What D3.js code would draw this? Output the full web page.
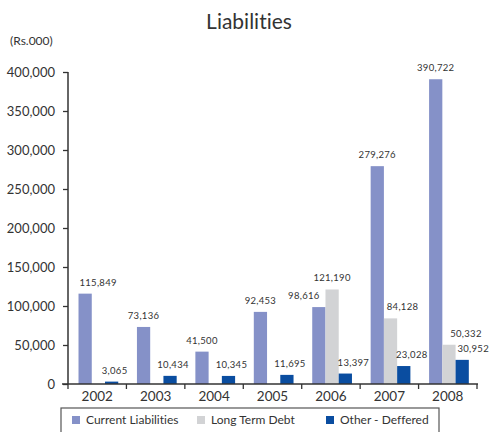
<!DOCTYPE html>
<html>
<head>
<meta charset="utf-8">
<script src="https://cdn.jsdelivr.net/npm/d3@7"></script>
<style>
  body { margin: 0; background: #fff; }
  text { font-family: Lato, "Open Sans", sans-serif; fill: #333; font-variant-ligatures: none; }
</style>
</head>
<body>
<svg class="chart"></svg>
<script>
var years = ["2002", "2003", "2004", "2005", "2006", "2007", "2008"];
var seriesNames = ["Current Liabilities", "Long Term Debt", "Other - Deffered"];
var currentLiabilities = [115849, 73136, 41500, 92453, 98616, 279276, 390722];
var longTermDebt = [0, 0, 0, 0, 121190, 84128, 50332];
var otherDeferred = [3065, 10434, 10345, 11695, 13397, 23028, 30952];
var yTicks = [0, 50000, 100000, 150000, 200000, 250000, 300000, 350000, 400000];

var colors = ["#8591c8", "#d2d3d5", "#0a4da0"];
var allSeries = [currentLiabilities, longTermDebt, otherDeferred];

var width = 489, height = 432;
var margin = {top: 72, left: 68, right: 12, bottom: 48};

var svg = d3.select(".chart")
    .attr("width", width)
    .attr("height", height);

var x0 = d3.scaleBand()
    .domain(years)
    .range([margin.left, width - margin.right]);

var bw = x0.bandwidth();
var x1 = d3.scaleBand()
    .domain(seriesNames)
    .range([bw * 0.18, bw * 0.86]);

var y = d3.scaleLinear()
    .domain([0, 400000])
    .range([height - margin.bottom, margin.top]);

// flatten to bar records
var bars = [];
years.forEach(function(yr, i) {
  seriesNames.forEach(function(s, j) {
    bars.push({year: yr, series: s, idx: j, value: allSeries[j][i]});
  });
});

// label nudges where the labels would clash
function nudge(d) {
  if (d.year == "2002" && d.idx == 0) return 13;
  if (d.year == "2006" && d.idx == 0) return -15;
  if (d.year == "2007" && d.idx == 1) return 12;
  if (d.year == "2008" && d.idx == 1) return 17;
  if (d.idx == 2 && (d.year == "2006" || d.year == "2007")) return 8;
  if (d.year == "2008" && d.idx == 2) return 11;
  if (d.idx == 2) return 3;
  return 0;
}

svg.append("g").selectAll("rect")
    .data(bars.filter(function(d) { return d.value > 0; }))
  .enter().append("rect")
    .attr("x", function(d) { return x0(d.year) + x1(d.series); })
    .attr("y", function(d) { return y(d.value); })
    .attr("width", x1.bandwidth())
    .attr("height", function(d) { return y(0) - y(d.value); })
    .attr("fill", function(d) { return colors[d.idx]; });

svg.append("g").selectAll("text")
    .data(bars.filter(function(d) { return d.value > 0; }))
  .enter().append("text")
    .attr("x", function(d) { return x0(d.year) + x1(d.series) + x1.bandwidth() / 2 + nudge(d); })
    .attr("y", function(d) { return y(d.value) - 8; })
    .attr("text-anchor", "middle")
    .style("font-size", "9.5px")
    .style("letter-spacing", "0.3px")
    .text(function(d) { return d3.format(",")(d.value); });

// y axis
var yAxis = d3.axisLeft(y)
    .tickValues(yTicks)
    .tickSize(5)
    .tickPadding(8)
    .tickFormat(d3.format(","));

var ya = svg.append("g")
    .attr("transform", "translate(" + margin.left + ",0)")
    .call(yAxis);
ya.select(".domain").attr("stroke", "#333").attr("stroke-width", 1.5).attr("d", "M0," + y(400000) + "V" + y(0));
ya.selectAll(".tick line").attr("stroke", "#333").attr("stroke-width", 1.3);
ya.selectAll(".tick text").style("font-size", "13px").attr("fill", "#333");

// x axis
var xa = svg.append("g")
    .attr("transform", "translate(0," + y(0) + ")");
xa.append("line")
    .attr("x1", margin.left - 6).attr("x2", width - margin.right + 1)
    .attr("stroke", "#333").attr("stroke-width", 1.5);
xa.selectAll("line.tk")
    .data(years.concat(["end"]))
  .enter().append("line")
    .attr("class", "tk")
    .attr("x1", function(d, i) { return margin.left + i * bw; })
    .attr("x2", function(d, i) { return margin.left + i * bw; })
    .attr("y1", 0).attr("y2", 5)
    .attr("stroke", "#333").attr("stroke-width", 1.3);
xa.selectAll("text")
    .data(years)
  .enter().append("text")
    .attr("x", function(d) { return x0(d) + bw / 2; })
    .attr("y", 17)
    .attr("text-anchor", "middle")
    .style("font-size", "13.5px")
    .text(function(d) { return d; });

// title and unit
svg.append("text")
    .attr("x", 249).attr("y", 29)
    .attr("text-anchor", "middle")
    .style("font-size", "21px")
    .text("Liabilities");

svg.append("text")
    .attr("x", 10).attr("y", 45)
    .style("font-size", "12px")
    .text("(Rs.000)");

// legend
var lg = svg.append("g");
lg.append("rect")
    .attr("x", 61).attr("y", 408)
    .attr("width", 378).attr("height", 40)
    .attr("fill", "none").attr("stroke", "#555").attr("stroke-width", 1.2);

var legendX = [72, 197, 326];
var item = lg.selectAll("g.item")
    .data(seriesNames)
  .enter().append("g")
    .attr("class", "item")
    .attr("transform", function(d, i) { return "translate(" + legendX[i] + ",415)"; });
item.append("rect")
    .attr("width", 8).attr("height", 8)
    .attr("y", 1)
    .attr("fill", function(d, i) { return colors[i]; });
item.append("text")
    .attr("x", 14).attr("y", 9)
    .style("font-size", "12px")
    .text(function(d) { return d; });
</script>
</body>
</html>
